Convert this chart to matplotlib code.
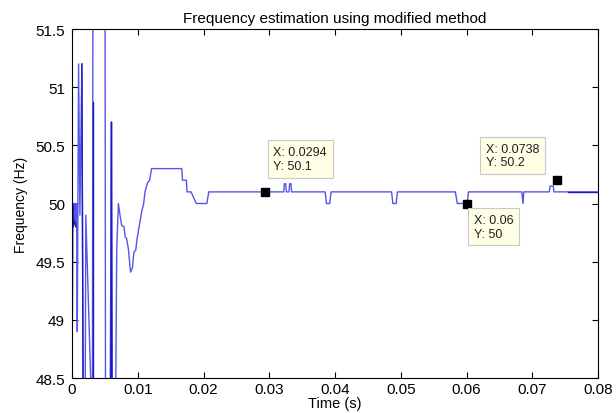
import matplotlib
matplotlib.use("Agg")
import matplotlib.pyplot as plt

plt.rcParams['font.family'] = ['Liberation Sans', 'DejaVu Sans']

# frequency estimate (Hz) against time (s), main trace
time_s = [
    0.0000, 0.0001, 0.0002, 0.0003, 0.0004, 0.0005, 0.0006, 0.0007,
    0.0008, 0.0010, 0.0012, 0.0015, 0.0017, 0.0020, 0.0021, 0.0031,
    0.0032, 0.0050, 0.0051, 0.0054, 0.0058, 0.0060, 0.0061, 0.0066,
    0.0068, 0.00705, 0.0073, 0.00756, 0.0079, 0.0081, 0.0083, 0.00857,
    0.0089, 0.0092, 0.0094, 0.0097, 0.0099, 0.0102, 0.0106, 0.0109,
    0.0111, 0.0115, 0.0118, 0.0121, 0.0167, 0.0168, 0.0174, 0.0175,
    0.0181, 0.0189, 0.0205, 0.0208, 0.0322, 0.0323, 0.0325, 0.0326,
    0.0330, 0.0331, 0.0333, 0.0334, 0.0385, 0.0387, 0.0392, 0.0394,
    0.0486, 0.0488, 0.0493, 0.0495, 0.0583, 0.0586, 0.0601, 0.0603,
    0.0684, 0.0686, 0.0687, 0.0726, 0.0727, 0.0732, 0.0733, 0.0800,
]
freq_hz = [
    48.0, 50.0, 49.8, 50.0, 49.85, 50.0, 49.8, 50.0,
    48.9, 51.2, 49.9, 51.2, 48.2, 48.2, 49.9, 48.0,
    53.0, 53.0, 48.0, 48.0, 48.3, 50.7, 48.0, 48.0,
    49.6, 50.0, 49.9, 49.81, 49.8, 49.71, 49.7, 49.61,
    49.41, 49.45, 49.58, 49.6, 49.7, 49.8, 49.93, 50.0,
    50.1, 50.18, 50.2, 50.3, 50.3, 50.2, 50.2, 50.1,
    50.1, 50.0, 50.0, 50.1, 50.1, 50.17, 50.17, 50.1,
    50.1, 50.17, 50.17, 50.1, 50.1, 50.0, 50.0, 50.1,
    50.1, 50.0, 50.0, 50.1, 50.1, 50.0, 50.0, 50.1,
    50.1, 50.0, 50.1, 50.1, 50.15, 50.15, 50.1, 50.1,
]

# darker overlapping pieces of the trace
dark_pieces = [
    ([0.0000, 0.0001, 0.0002, 0.0004, 0.0006], [48.0, 50.0, 49.8, 49.85, 49.8]),
    ([0.0015, 0.0017], [51.2, 48.2]),
    ([0.0032, 0.0032], [50.87, 48.0]),
    ([0.0059, 0.0060, 0.0061], [48.3, 50.7, 48.0]),
    ([0.0755, 0.0800], [50.1, 50.1]),
]

# data cursors
tip_x = [0.0294, 0.06, 0.0738]
tip_y = [50.1, 50, 50.2]
tip_offsets = [(5.8, 14.4), (5.4, -7.6), (-13.0, 8.6)]
tip_align = [('left', 'bottom'), ('left', 'top'), ('right', 'bottom')]

fig = plt.figure(figsize=(6.16, 4.14), dpi=100)
ax = fig.add_axes([0.1169, 0.0845, 0.8539, 0.843])

ax.plot(time_s, freq_hz, color='#5555e8', linewidth=1.0)
for px, py in dark_pieces:
    ax.plot(px, py, color='#1a1ac4', linewidth=1.0)

for x, y, off, (ha, va) in zip(tip_x, tip_y, tip_offsets, tip_align):
    ax.plot([x], [y], marker='s', markersize=6, color='black', linestyle='none', zorder=5)
    ax.annotate(f"X: {x:g}\nY: {y:g}", xy=(x, y), xytext=off, textcoords='offset points',
                ha=ha, va=va, multialignment='left', fontsize=9, color='#202020',
                bbox=dict(boxstyle='square,pad=0.45', fc='#ffffe6', ec='#c8c8c8', lw=0.8),
                zorder=6)

ax.set_xlim(0, 0.08)
ax.set_ylim(48.5, 51.5)
ax.set_xticks([0, 0.01, 0.02, 0.03, 0.04, 0.05, 0.06, 0.07, 0.08])
ax.set_xticklabels(['0', '0.01', '0.02', '0.03', '0.04', '0.05', '0.06', '0.07', '0.08'])
ax.set_yticks([48.5, 49, 49.5, 50, 50.5, 51, 51.5])
ax.set_yticklabels(['48.5', '49', '49.5', '50', '50.5', '51', '51.5'])
ax.tick_params(direction='in', top=True, right=True, length=4, width=0.8, labelsize=11)
ax.tick_params(axis='y', pad=5)
ax.tick_params(axis='x', pad=3)
for s in ax.spines.values():
    s.set_linewidth(0.8)

ax.set_xlabel('Time (s)', fontsize=10.5, labelpad=0)
ax.set_ylabel('Frequency (Hz)', fontsize=10, labelpad=5)
ax.set_title('Frequency estimation using modified method', fontsize=11, pad=5)

fig.savefig('out.png', dpi=100)
